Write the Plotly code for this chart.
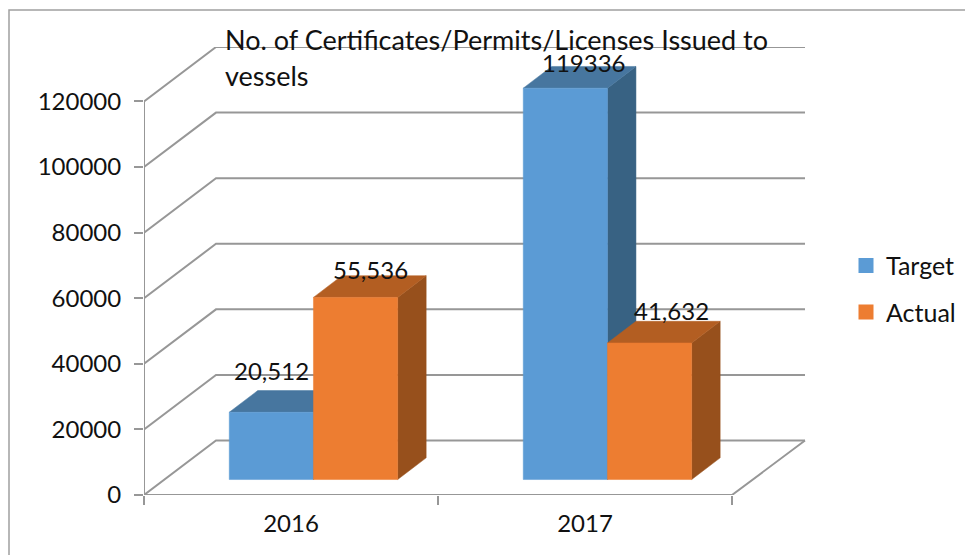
import plotly.graph_objects as go

categories = ["2016", "2017"]
category_pos = [2016, 2017]
target = [20512, 119336]
actual = [55536, 41632]
target_labels = ["20,512", "119336"]
actual_labels = ["55,536", "41,632"]
y_ticks = [0, 20000, 40000, 60000, 80000, 100000, 120000]

W, H = 965, 555
L, R, T, B = 144, 965, 47, 495.5 # plot area; the legend sits inside it, right of the back wall
PX_Y = 120000 / 394.0            # value units per pixel
PX_X = 1 / 294.0                 # category units per pixel
x_min = 2016 + (L - 291) * PX_X
x_max = 2016 + (R - 291) * PX_X
x_back_end = 2016 + (805 - 291) * PX_X
x_front_end = 2016 + (732 - 291) * PX_X
y_max = (B - T) * PX_Y

wall_dx, wall_dy = 72 * PX_X, 54.5 * PX_Y # depth of the walls
bar_dx, bar_dy = 28.5 * PX_X, 21.7 * PX_Y # depth of each bar
base = 15.5 * PX_Y                        # bars stand forward of the back wall
bar_w = 84.2 * PX_X
bar_off = -0.21

GRID = "#979797"
BLUE, BLUE_TOP, BLUE_SIDE = "#5B9BD5", "#47769F", "#386283"
ORANGE, ORANGE_TOP, ORANGE_SIDE = "#ED7D31", "#B35E22", "#97501C"
FONT = "Lato, 'Open Sans', sans-serif"
INK = "#111111"

fig = go.Figure()


def line(xs, ys, width=2.0, color=GRID):
    fig.add_trace(go.Scatter(x=xs, y=ys, mode="lines", showlegend=False, hoverinfo="skip",
                             line=dict(color=color, width=width)))


def poly(xs, ys, color):
    fig.add_trace(go.Scatter(x=xs + xs[:1], y=ys + ys[:1], mode="lines", fill="toself",
                             fillcolor=color, line=dict(color=color, width=0.5),
                             showlegend=False, hoverinfo="skip"))


# back wall gridlines and side wall diagonals
gx, gy = [], []
for v in y_ticks:
    gx += [x_min, x_min + wall_dx, x_back_end, None]
    gy += [v, v + wall_dy, v + wall_dy, None]
line(gx, gy)
# floor edges and vertical axis
line([x_min, x_front_end, x_back_end], [0, 0, wall_dy])
line([x_min, x_min], [0, 120000])


def bar(x0, v, front, top, side):
    x1 = x0 + bar_w
    y0, y1 = base, base + v
    poly([x1, x1 + bar_dx, x1 + bar_dx, x1], [y0, y0 + bar_dy, y1 + bar_dy, y1], side)
    poly([x0, x1, x1 + bar_dx, x0 + bar_dx], [y1, y1, y1 + bar_dy, y1 + bar_dy], top)
    poly([x0, x1, x1, x0], [y0, y0, y1, y1], front)


for c, t, a in zip(category_pos, target, actual):
    bar(c + bar_off, t, BLUE, BLUE_TOP, BLUE_SIDE)
    bar(c + bar_off + bar_w, a, ORANGE, ORANGE_TOP, ORANGE_SIDE)

# legend entries
for name, color in (("Target", BLUE), ("Actual", ORANGE)):
    fig.add_trace(go.Scatter(x=[None], y=[None], mode="markers", name=name, legendgroup=name,
                             marker=dict(symbol="square", size=15, color=color)))

# value labels, nudged by hand in the original
label_shift = [[(0, 42), (15, 28)], [(19, 26), (22, 32)]]
annotations = []
for i, c in enumerate(category_pos):
    for j, (v, lab) in enumerate(((target[i], target_labels[i]), (actual[i], actual_labels[i]))):
        sx, sy = label_shift[i][j]
        annotations.append(dict(x=c + bar_off + bar_w * (j + 0.5), y=base + v, xref="x", yref="y",
                                text=lab, showarrow=False, xshift=sx, yshift=sy,
                                xanchor="center", yanchor="middle",
                                font=dict(family=FONT, size=24, color=INK)))

span_x, span_y = R - L, B - T
title_lines = ["No. of Certificates/Permits/Licenses Issued to", "vessels"]
for text, py in zip(title_lines, (39, 76)):
    annotations.append(dict(x=(225 - L) / span_x, y=(B - py) / span_y, xref="paper", yref="paper",
                            text=text, showarrow=False, xanchor="left", yanchor="middle", xshift=-2,
                            font=dict(family=FONT, size=27, color=INK)))

fig.update_layout(
    width=W, height=H, autosize=False,
    margin=dict(l=L, r=W - R, t=T, b=H - B, pad=0),
    paper_bgcolor="white", plot_bgcolor="rgba(0,0,0,0)",
    annotations=annotations,
    shapes=[dict(type="rect", xref="paper", yref="paper",
                 x0=(9 - L) / span_x, x1=(W + 20 - L) / span_x,
                 y0=(B - H - 20) / span_y, y1=(B - 10) / span_y,
                 line=dict(color="#a0a0a0", width=1.5), layer="below")],
    legend=dict(x=(846 - L) / span_x, y=(B - 243) / span_y, xref="paper", yref="paper",
                xanchor="left", yanchor="top", entrywidth=62, entrywidthmode="pixels",
                font=dict(family=FONT, size=25, color=INK), tracegroupgap=11,
                bgcolor="rgba(0,0,0,0)", itemclick=False, itemdoubleclick=False),
    xaxis=dict(range=[x_min, x_max], tickvals=category_pos, ticktext=categories, showgrid=False,
               zeroline=False, showline=False, ticks="", ticklen=0, ticklabelstandoff=12,
               tickfont=dict(family=FONT, size=24, color=INK),
               minor=dict(tickvals=[2015.5, 2016.5, 2017.5], ticks="outside", ticklen=9,
                          tickcolor=GRID, tickwidth=1.5, showgrid=False)),
    yaxis=dict(range=[0, y_max], tickvals=y_ticks, showgrid=False, zeroline=False, showline=False,
               ticks="outside", ticklen=9, tickcolor=GRID, tickwidth=1.5, tickformat="d",
               ticklabelstandoff=8, tickfont=dict(family=FONT, size=24, color=INK)),
)
fig.write_html("out.html", config={"displayModeBar": False},
               post_script="document.body.style.margin='0';")
